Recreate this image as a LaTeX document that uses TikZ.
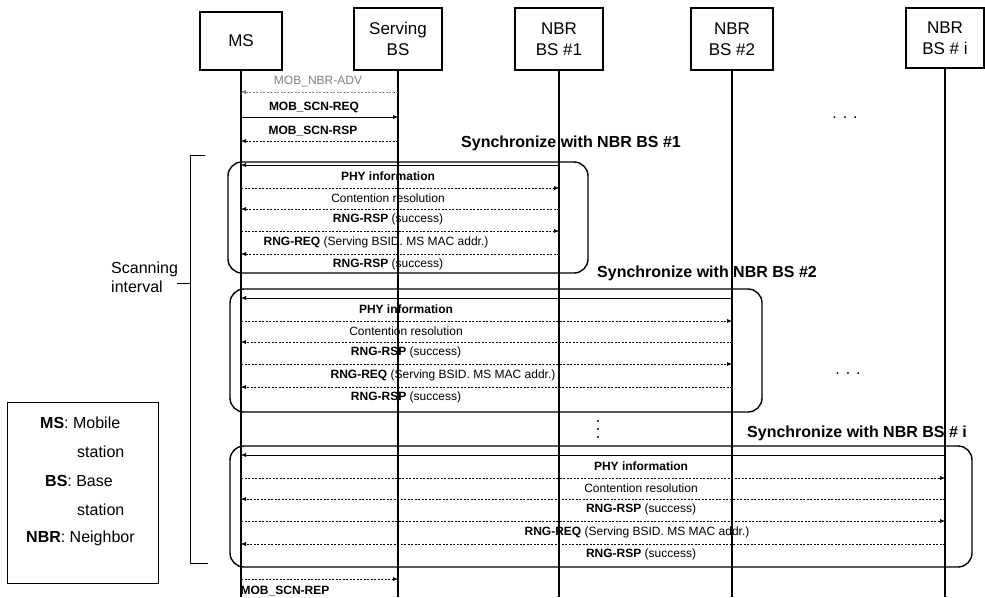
\documentclass[tikz,border=0pt]{standalone}
\usepackage{fontspec}
\setmainfont{Liberation Sans}
\usetikzlibrary{arrows.meta}
\tikzset{
  head/.style={draw, line width=1.2pt, align=center, inner sep=2pt,
    font=\fontsize{17}{21}\selectfont},
  life/.style={line width=1.5pt},
  msg/.style={-{Latex[length=5pt,width=4pt]}, line width=0.5pt},
  dmsg/.style={msg, dash pattern=on 2pt off 1.5pt},
  grp/.style={line width=1.4pt, rounded corners=14pt},
  lbl/.style={font=\fontsize{12}{14}\selectfont, inner sep=0pt},
  sync/.style={font=\fontsize{16}{18}\selectfont\bfseries, inner sep=0pt},
  key/.style={font=\fontsize{16}{18}\selectfont, inner sep=0pt, anchor=west}
}
\begin{document}
\begin{tikzpicture}[x=1pt,y=-1pt]
\useasboundingbox (0,0) rectangle (985,597);
\node[head, minimum width=82pt, minimum height=58pt] (ms) at (241,41) {MS};
\node[head, minimum width=88pt, minimum height=62pt] (sbs) at (398,39) {Serving\\BS};
\node[head, minimum width=88pt, minimum height=62pt] (nbr1) at (559,39) {NBR\\BS \#1};
\node[head, minimum width=82pt, minimum height=62pt] (nbr2) at (732,39) {NBR\\BS \#2};
\node[head, minimum width=78pt, minimum height=60pt] (nbri) at (945,38) {NBR\\BS \# i};
\foreach \n in {ms,sbs,nbr1,nbr2,nbri}
  \draw[life] (\n.south) -- (\n.south |- 0,597);

\draw[dmsg, gray] (sbs |- 0,92) -- (ms |- 0,92);
\node[lbl, text=gray] (adv) at (318,82) {MOB\_NBR-ADV};
\draw[msg] (ms |- 0,117) -- (sbs |- 0,117);
\node[lbl, font=\fontsize{12}{14}\selectfont\bfseries] (req) at (314,107) {MOB\_SCN-REQ};
\draw[dmsg] (sbs |- 0,141) -- (ms |- 0,141);
\node[lbl, font=\fontsize{12}{14}\selectfont\bfseries] (rsp) at (313,131) {MOB\_SCN-RSP};
\node (dt1) at (845,118) {\fontsize{16}{18}\selectfont. . .};

\node[sync] (sync1) at (571,143) {Synchronize with NBR BS \#1};
\draw[grp] (228,162) rectangle (588,273);
\node[sync] (sync2) at (707,273) {Synchronize with NBR BS \#2};
\draw[grp] (230,289) rectangle (762,412);
\node (dt2) at (848,374) {\fontsize{16}{18}\selectfont. . .};
\foreach \d in {421,429,437}
  \fill (598,\d) circle (1.1);
\node[sync] (sync3) at (857,433) {Synchronize with NBR BS \# i};
\draw[grp] (230,446) rectangle (972,567);

\foreach \t/\y/\xa/\xb/\g in {nbr1/165/388/376/1, nbr2/298/406/443/2, nbri/455/641/637/3}{
  \draw[msg] (\t |- 0,\y) -- (ms |- 0,\y);
  \node[lbl] (phy\g) at (\xa,\y+11) {\textbf{PHY information}};
  \draw[dmsg] (ms |- 0,\y+23) -- (\t |- 0,\y+23);
  \node[lbl] (cr\g) at (\xa,\y+33) {Contention resolution};
  \draw[dmsg] (\t |- 0,\y+44) -- (ms |- 0,\y+44);
  \node[lbl] (rspa\g) at (\xa,\y+54) {\textbf{RNG-RSP} (success)};
  \draw[dmsg] (ms |- 0,\y+66) -- (\t |- 0,\y+66);
  \node[lbl] (rreq\g) at (\xb,\y+77) {\textbf{RNG-REQ} (Serving BSID. MS MAC addr.)};
  \draw[dmsg] (\t |- 0,\y+89) -- (ms |- 0,\y+89);
  \node[lbl] (rspb\g) at (\xa,\y+99) {\textbf{RNG-RSP} (success)};
}

\draw[dmsg] (ms |- 0,579) -- (sbs |- 0,579);
\node[lbl, font=\fontsize{12}{14}\selectfont\bfseries] (rep) at (285,591) {MOB\_SCN-REP};

\draw (205,155) -- (190,155) -- (190,563) -- (208,563);
\draw (177,283) -- (190,283);
\node[align=left, anchor=west, inner sep=0pt, font=\fontsize{16}{19}\selectfont] (scan) at (111,277) {Scanning\\interval};

\draw (7,402) rectangle (158,583);
\node[key] (k1) at (40,423) {\textbf{MS}: Mobile};
\node[key] (k2) at (77,452) {station};
\node[key] (k3) at (45,481) {\textbf{BS}: Base};
\node[key] (k4) at (77,510) {station};
\node[key] (k5) at (26,538) {\textbf{NBR}: Neighbor};
\end{tikzpicture}
\end{document}
